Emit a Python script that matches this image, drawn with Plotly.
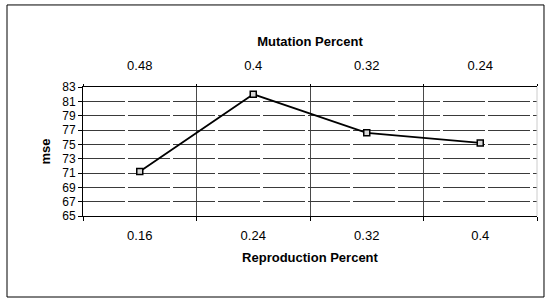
import plotly.graph_objects as go

reproduction = ["0.16", "0.24", "0.32", "0.4"]
mutation = ["0.48", "0.4", "0.32", "0.24"]
mse = [71.2, 82.0, 76.6, 75.2]

idx = list(range(len(reproduction)))

fig = go.Figure()
fig.add_trace(go.Scatter(
    x=idx, y=mse, mode="lines+markers",
    line=dict(color="black", width=1.8),
    marker=dict(symbol="square", size=6, color="#d9d9d9",
                line=dict(color="black", width=1.5)),
    showlegend=False, hoverinfo="skip",
))
fig.add_trace(go.Scatter(
    x=idx, y=mse, xaxis="x2", mode="lines", opacity=0,
    showlegend=False, hoverinfo="skip",
))

font_ticks = dict(family="Liberation Sans, Arial, sans-serif", size=13, color="black")
font_title = dict(family="Liberation Sans, Arial, sans-serif", size=13, color="black")

fig.update_layout(
    width=548, height=300,
    margin=dict(l=83, r=11, t=87, b=84),
    paper_bgcolor="white", plot_bgcolor="white",
    xaxis=dict(
        range=[-0.5, 3.5], tickvals=idx, ticktext=reproduction,
        ticks="", showgrid=False, zeroline=False,
        showline=True, linecolor="black", linewidth=1,
        tickfont=font_ticks, ticklabelstandoff=7,
        minor=dict(tick0=-0.5, dtick=1, ticks="outside", ticklen=4,
                   tickcolor="black", showgrid=True, gridcolor="#4a4a4a", gridwidth=1),
        title=dict(text="<b>Reproduction Percent</b>", font=font_title, standoff=11),
    ),
    xaxis2=dict(
        range=[-0.5, 3.5], tickvals=idx, ticktext=mutation,
        overlaying="x", side="top", matches="x",
        ticks="", showgrid=False, zeroline=False,
        showline=True, linecolor="black", linewidth=1,
        tickfont=font_ticks, ticklabelstandoff=11,
        minor=dict(tick0=-0.5, dtick=1, ticks="outside", ticklen=2,
                   tickcolor="black", showgrid=False),
        title=dict(text="<b>Mutation Percent</b>", font=font_title, standoff=8),
    ),
    yaxis=dict(
        range=[65, 83], dtick=2, tick0=65,
        ticks="outside", ticklen=4, tickcolor="black",
        showgrid=True, gridcolor="#3a3a3a", gridwidth=1, griddash="42px,3px",
        zeroline=False, showline=True, linecolor="black", linewidth=1,
        tickfont=dict(family="Liberation Sans Narrow, Liberation Sans, Arial", size=12, color="black"),
        title=dict(text="<b>mse</b>", font=font_title, standoff=8),
    ),
    shapes=[
        dict(type="rect", xref="paper", yref="paper",
             x0=-0.1674, x1=1.0154, y0=-0.628, y1=1.636,
             line=dict(color="black", width=1), fillcolor="rgba(0,0,0,0)", layer="below"),
        dict(type="line", xref="paper", yref="paper", x0=1, x1=1, y0=0, y1=1,
             line=dict(color="#cccccc", width=1)),
    ],
)

fig.write_html("out.html", config={"displayModeBar": False},
               post_script="document.body.style.margin='0px';")
